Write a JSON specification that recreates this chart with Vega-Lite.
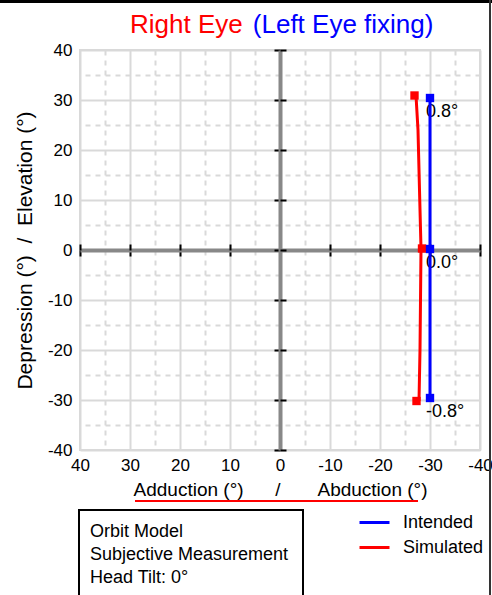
{
  "$schema": "https://vega.github.io/schema/vega-lite/v6.json",
  "width": 400,
  "height": 400,
  "autosize": {"type": "none"},
  "padding": {"left": 80, "top": 50, "right": 12, "bottom": 145},
  "background": "white",
  "config": {
    "view": {"stroke": "#d9d9d9", "strokeWidth": 2},
    "font": "Liberation Sans",
    "axis": {"labelFont": "Liberation Sans", "titleFont": "Liberation Sans", "labelColor": "black", "titleColor": "black", "titleFontWeight": "normal", "labelFlush": false, "labelOverlap": false, "labelBound": false}
  },
  "title": {
    "text": "Right Eye",
    "subtitle": "\u200b\u00a0\u00a0\u00a0\u00a0\u00a0\u00a0\u00a0\u00a0\u00a0\u00a0\u00a0\u00a0\u00a0\u00a0\u00a0\u00a0\u00a0(Left Eye fixing)",
    "anchor": "start",
    "frame": "group",
    "dx": 50,
    "offset": -39,
    "font": "Liberation Sans",
    "subtitleFont": "Liberation Sans",
    "fontSize": 26,
    "subtitleFontSize": 26,
    "fontWeight": "normal",
    "color": "#ff0000",
    "subtitleColor": "#0000ff",
    "lineHeight": 26,
    "subtitleLineHeight": 26,
    "subtitlePadding": -26
  },
  "datasets": {
    "curves": [
      {"series": "Intended", "x": -30, "y": 30.4},
      {"series": "Intended", "x": -30, "y": 0.2},
      {"series": "Intended", "x": -30, "y": -29.6},
      {"series": "Simulated", "x": -27.2, "y": 30.9},
      {"series": "Simulated", "x": -27.6, "y": 24},
      {"series": "Simulated", "x": -27.9, "y": 12},
      {"series": "Simulated", "x": -28.2, "y": 0.3},
      {"series": "Simulated", "x": -28.1, "y": -10},
      {"series": "Simulated", "x": -28.0, "y": -20},
      {"series": "Simulated", "x": -27.8, "y": -30.2}
    ],
    "markers": [
      {"series": "Simulated", "x": -26.9, "y": 30.9, "label": ""},
      {"series": "Simulated", "x": -28.4, "y": 0.3, "label": ""},
      {"series": "Simulated", "x": -27.3, "y": -30.2, "label": ""},
      {"series": "Intended", "x": -30, "y": 30.4, "label": "0.8°"},
      {"series": "Intended", "x": -30, "y": 0.2, "label": "0.0°"},
      {"series": "Intended", "x": -30, "y": -29.6, "label": "-0.8°"}
    ],
    "one": [{}]
  },
  "resolve": {"axis": {"x": "independent", "y": "independent"}},
  "layer": [
    {
      "data": {"name": "markers"},
      "mark": {"type": "text", "align": "left", "baseline": "middle", "dx": -4, "dy": 14, "fontSize": 18, "font": "Liberation Sans", "color": "black"},
      "encoding": {
        "x": {"field": "x", "type": "quantitative", "scale": {"domain": [-40, 40], "reverse": true, "nice": false, "zero": false},
          "axis": {"orient": "bottom", "values": [-35, -25, -15, -5, 5, 15, 25, 35], "grid": true, "gridDash": [5, 5], "gridColor": "#d9d9d9", "gridWidth": 2, "labels": false, "ticks": false, "domain": false, "title": null, "zindex": 0}},
        "y": {"field": "y", "type": "quantitative", "scale": {"domain": [-40, 40], "nice": false, "zero": false},
          "axis": {"orient": "left", "values": [-35, -25, -15, -5, 5, 15, 25, 35], "grid": true, "gridDash": [5, 5], "gridColor": "#d9d9d9", "gridWidth": 2, "labels": false, "ticks": false, "domain": false, "title": null, "zindex": 0}},
        "text": {"field": "label"}
      }
    },
    {
      "data": {"name": "curves"},
      "mark": {"type": "line", "strokeWidth": 3},
      "encoding": {
        "x": {"field": "x", "type": "quantitative",
          "axis": {"orient": "bottom", "values": [-40, -30, -20, -10, 0, 10, 20, 30, 40], "labelExpr": "'' + datum.value", "grid": true, "gridColor": "#d9d9d9", "gridWidth": 2, "domain": false, "ticks": false, "labelPadding": 7, "labelFontSize": 17,
            "title": "Adduction (°)\u00a0\u00a0\u00a0\u00a0\u00a0\u00a0/\u00a0\u00a0\u00a0\u00a0\u00a0\u00a0\u00a0Abduction (°)", "titleFontSize": 19, "titlePadding": 7, "zindex": 0}},
        "y": {"field": "y", "type": "quantitative",
          "axis": {"orient": "left", "values": [-40, -30, -20, -10, 0, 10, 20, 30, 40], "labelExpr": "'' + datum.value", "grid": true, "gridColor": "#d9d9d9", "gridWidth": 2, "domain": false, "ticks": false, "labelPadding": 8, "labelFontSize": 17,
            "title": "Depression (°)\u00a0\u00a0/\u00a0\u00a0Elevation (°)", "titleFontSize": 21, "titlePadding": 12, "zindex": 0}},
        "order": {"field": "y", "type": "quantitative"},
        "color": {"field": "series", "type": "nominal",
          "scale": {"domain": ["Intended", "Simulated"], "range": ["#0000ff", "#ff0000"]},
          "legend": {"orient": "none", "legendX": 283, "legendY": 461, "title": null, "symbolType": "M-1.5,0H1.5", "symbolSize": 400, "symbolStrokeWidth": 3, "labelFontSize": 18, "labelFont": "Liberation Sans", "labelColor": "black", "labelOffset": 17, "rowPadding": 4, "padding": 0}}
      }
    },
    {
      "data": {"name": "markers"},
      "mark": {"type": "square", "size": 70, "filled": true, "opacity": 1},
      "encoding": {
        "x": {"field": "x", "type": "quantitative",
          "axis": {"orient": "bottom", "offset": -200, "values": [-40, -30, -20, -10, 0, 10, 20, 30, 40], "grid": false, "labels": false, "domain": true, "domainColor": "#888888", "domainWidth": 4, "ticks": true, "tickColor": "black", "tickWidth": 2, "tickSize": 6, "title": null, "zindex": 0}},
        "y": {"field": "y", "type": "quantitative",
          "axis": {"orient": "left", "offset": -200, "values": [-40, -30, -20, -10, 0, 10, 20, 30, 40], "grid": false, "labels": false, "domain": true, "domainColor": "#888888", "domainWidth": 4, "ticks": true, "tickColor": "black", "tickWidth": 2, "tickSize": 6, "title": null, "zindex": 0}},
        "color": {"field": "series", "type": "nominal", "legend": null}
      }
    },
    {
      "data": {"name": "one"},
      "mark": {"type": "rule", "color": "#ff0000", "strokeWidth": 2},
      "encoding": {
        "x": {"datum": 29,
          "axis": {"orient": "top", "offset": -200, "values": [-40, -30, -20, -10, 0, 10, 20, 30, 40], "grid": false, "labels": false, "domain": false, "ticks": true, "tickColor": "black", "tickWidth": 2, "tickSize": 6, "title": null, "zindex": 0}},
        "x2": {"datum": -27.6},
        "y": {"datum": -50.2,
          "axis": {"orient": "right", "offset": -200, "values": [-40, -30, -20, -10, 0, 10, 20, 30, 40], "grid": false, "labels": false, "domain": false, "ticks": true, "tickColor": "black", "tickWidth": 2, "tickSize": 6, "title": null, "zindex": 0}}
      }
    },
    {
      "data": {"name": "one"},
      "mark": {"type": "rect", "filled": false, "stroke": "black", "strokeWidth": 2},
      "encoding": {
        "x": {"datum": 40.2, "axis": null},
        "x2": {"datum": -4.6},
        "y": {"datum": -52, "axis": null},
        "y2": {"datum": -70}
      }
    },
    {
      "data": {"name": "one"},
      "mark": {"type": "text", "align": "left", "baseline": "alphabetic", "fontSize": 18, "font": "Liberation Sans", "lineHeight": 23, "color": "black",
        "text": ["Orbit Model", "Subjective Measurement", "Head Tilt: 0°"]},
      "encoding": {
        "x": {"datum": 38, "axis": null},
        "y": {"datum": -57.4, "axis": null}
      }
    },
    {
      "data": {"name": "one"},
      "mark": {"type": "rule", "color": "black", "strokeWidth": 4},
      "encoding": {
        "x": {"datum": 56.5, "axis": null},
        "x2": {"datum": -43},
        "y": {"datum": 49.8, "axis": null}
      }
    },
    {
      "data": {"name": "one"},
      "mark": {"type": "rule", "color": "#333333", "strokeWidth": 2},
      "encoding": {
        "x": {"datum": -42, "axis": null},
        "y": {"datum": 50, "axis": null},
        "y2": {"datum": -70}
      }
    }
  ]
}
